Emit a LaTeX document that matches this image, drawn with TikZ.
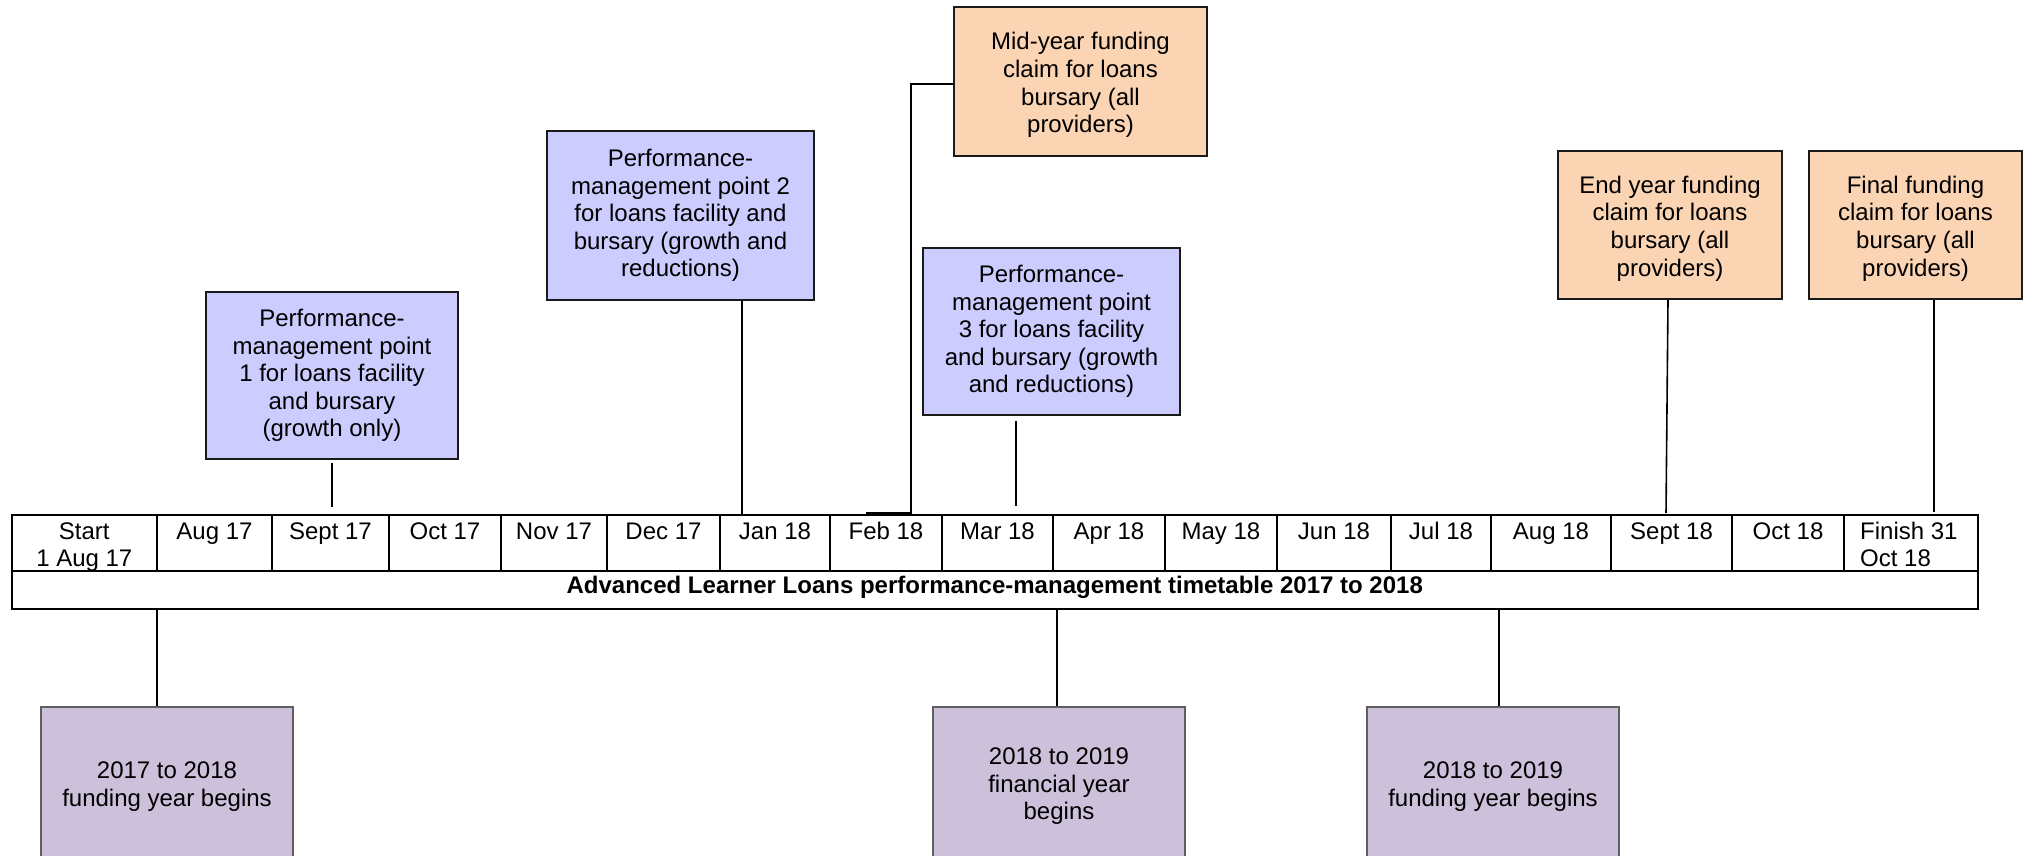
\documentclass[tikz,border=0pt]{standalone}
\usepackage{fontspec}
\setmainfont{Liberation Sans}
\definecolor{pmblue}{HTML}{CCCCFF}
\definecolor{claim}{HTML}{FBD4B4}
\definecolor{yearbox}{HTML}{CCC0DA}
\definecolor{edge}{HTML}{1A1A1A}
\newcommand{\lowr}{\rule{0pt}{24.5pt}}
\begin{document}
\begin{tikzpicture}[x=1pt,y=-1pt,
  tbl/.style={draw=black,line width=2pt},
  conn/.style={draw=black,line width=1.6pt},
  box/.style={rectangle,draw=edge,line width=1.8pt,inner sep=0pt,align=center,
    font=\fontsize{24}{27.6}\selectfont},
  pmbox/.style={box,fill=pmblue},
  claimbox/.style={box,fill=claim},
  yearbx/.style={box,fill=yearbox,draw=edge!70},
  mlabel/.style={anchor=north,inner sep=0pt,align=center,font=\fontsize{24}{27.6}\selectfont}]
\useasboundingbox (0,0) rectangle (2024,855);
\fill[white] (0,0) rectangle (2024,855);

% table
\draw[tbl] (11.6,515) rectangle (1978,609);
\draw[tbl] (11.6,570.5) -- (1978,570.5);
\foreach \x in {157,272,389,501,607,720,830,942,1053,1165,1277,1391,1491,1611,1732,1844}
  \draw[tbl] (\x,515) -- (\x,570.5);

% month labels
\node[mlabel] (m0) at (84.3,519.7) {\strut Start\\1 Aug 17};
\node[mlabel] (m1) at (214.5,519.7) {\strut Aug 17};
\node[mlabel] (m2) at (330.5,519.7) {\strut Sept 17};
\node[mlabel] (m3) at (445,519.7) {\strut Oct 17};
\node[mlabel] (m4) at (554,519.7) {\strut Nov 17};
\node[mlabel] (m5) at (663.5,519.7) {\strut Dec 17};
\node[mlabel] (m6) at (775,519.7) {\strut Jan 18};
\node[mlabel] (m7) at (886,519.7) {\strut Feb 18};
\node[mlabel] (m8) at (997.5,519.7) {\strut Mar 18};
\node[mlabel] (m9) at (1109,519.7) {\strut Apr 18};
\node[mlabel] (m10) at (1221,519.7) {\strut May 18};
\node[mlabel] (m11) at (1334,519.7) {\strut Jun 18};
\node[mlabel] (m12) at (1441,519.7) {\strut Jul 18};
\node[mlabel] (m13) at (1551,519.7) {\strut Aug 18};
\node[mlabel] (m14) at (1671.5,519.7) {\strut Sept 18};
\node[mlabel] (m15) at (1788,519.7) {\strut Oct 18};
\node[mlabel,anchor=north west,align=left] (m16) at (1860,519.7) {\strut Finish 31\\Oct 18};
\node[mlabel] (title) at (994.8,574) {\strut\textbf{Advanced Learner Loans performance-management timetable 2017 to 2018}};

% upper boxes
\node[pmbox,minimum width=252pt,minimum height=167pt] (p1) at (332,375.5)
  {Performance-\\management point\\1 for loans facility\\and bursary\\(growth only)};
\node[pmbox,minimum width=267pt,minimum height=169pt] (p2) at (680.5,215.5)
  {Performance-\\management point 2\\for loans facility and\\bursary (growth and\\reductions)};
\node[claimbox,minimum width=253pt,minimum height=149pt] (mid) at (1080.5,81.5)
  {\lowr Mid-year funding\\claim for loans\\bursary (all\\providers)};
\node[pmbox,minimum width=257pt,minimum height=167pt] (p3) at (1051.5,331.5)
  {Performance-\\management point\\3 for loans facility\\and bursary (growth\\and reductions)};
\node[claimbox,minimum width=224pt,minimum height=148pt] (endc) at (1670,225)
  {\lowr End year funding\\claim for loans\\bursary (all\\providers)};
\node[claimbox,minimum width=213pt,minimum height=148pt] (fin) at (1915.5,225)
  {\lowr Final funding\\claim for loans\\bursary (all\\providers)};

% lower boxes
\node[yearbx,minimum width=252pt,minimum height=151pt] (ya) at (167,782.5)
  {\lowr 2017 to 2018\\funding year begins};
\node[yearbx,minimum width=252pt,minimum height=151pt] (yb) at (1059,782.5)
  {\lowr 2018 to 2019\\financial year\\begins};
\node[yearbx,minimum width=252pt,minimum height=151pt] (yc) at (1493,782.5)
  {\lowr 2018 to 2019\\funding year begins};

% connectors
\coordinate (j1) at (332,507);
\draw[conn] ([yshift=-3pt]p1.south) -- (j1);
\coordinate (j2) at (742,516);
\draw[conn] (j2 |- p2.south) -- (j2);
\coordinate (k3) at (911,513);
\coordinate (j3) at (866,513);
\draw[conn] ([yshift=-2.5pt]mid.west) -| (k3) -- (j3);
\coordinate (j4) at (1016,506);
\draw[conn] ([yshift=-5pt]p3.south -| j4) -- (j4);
\coordinate (j5) at (1666,513);
\draw[conn] ([xshift=-2pt]endc.south) -- (j5);
\coordinate (j6) at (1934,512);
\draw[conn] (j6 |- fin.south) -- (j6);
\coordinate (b1) at (157,609);
\draw[conn] (b1) -- (b1 |- ya.north);
\coordinate (b2) at (1057,609);
\draw[conn] (b2) -- (b2 |- yb.north);
\coordinate (b3) at (1499,609);
\draw[conn] (b3) -- (b3 |- yc.north);
\end{tikzpicture}
\end{document}
